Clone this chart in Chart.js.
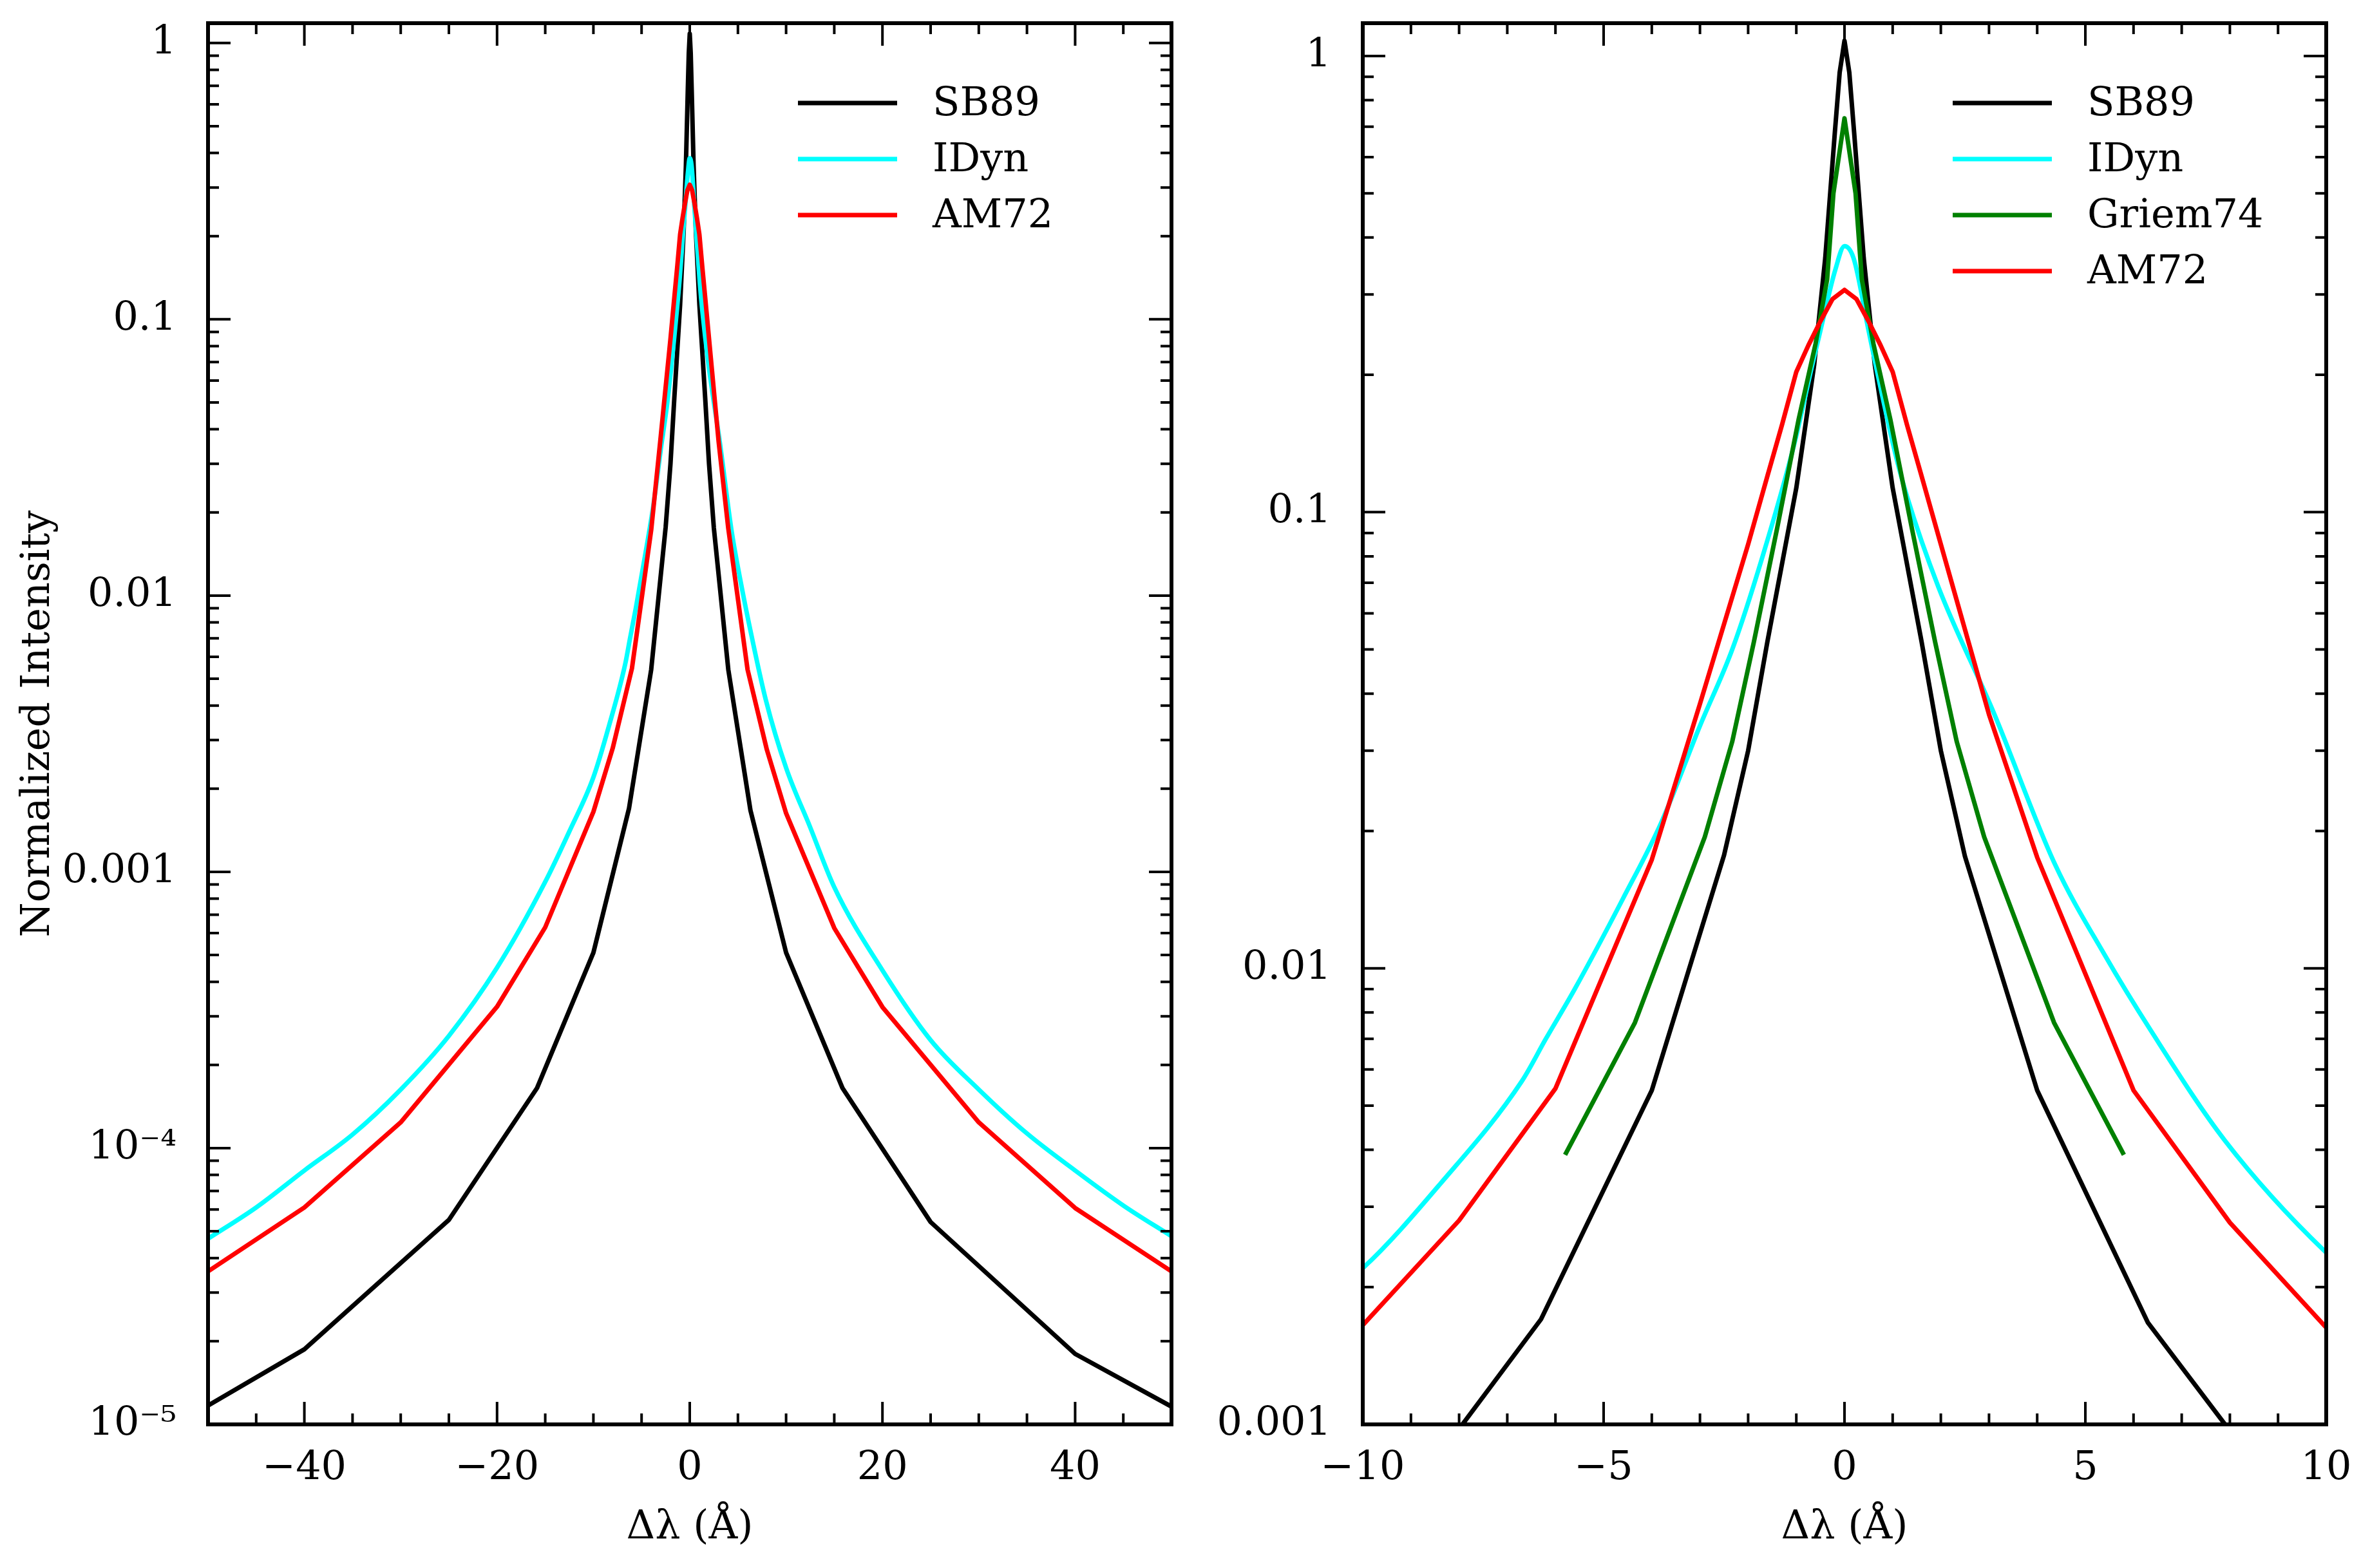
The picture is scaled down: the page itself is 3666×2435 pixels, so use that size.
<!DOCTYPE html>
<html>
<head>
<meta charset="utf-8">
<title>Line profiles</title>
<script src="https://cdn.jsdelivr.net/npm/chart.js@4.4.1/dist/chart.umd.min.js"></script>
<style>
  html, body { margin: 0; padding: 0; background: #fff; }
  body { width: 3666px; height: 2435px; position: relative; overflow: hidden; }
  canvas { position: absolute; top: 0; }
  #wide { left: 0; }
  #core { left: 1840px; }
</style>
</head>
<body>
<canvas id="wide" width="1900" height="2435"></canvas>
<canvas id="core" width="1826" height="2435"></canvas>
<script>
// profiles: delta lambda (A) vs normalized intensity
const sb89X = [-50, -40, -25, -15.85, -10, -6.3, -4, -2.5, -2, -1.6, -1, -0.63, -0.4, -0.2, -0.1, 0,
  0.1, 0.2, 0.4, 0.63, 1, 1.6, 2, 2.5, 4, 6.3, 10, 15.85, 25, 40, 50];
const sb89Y = [1.17e-5, 1.87e-5, 5.5e-5, 1.65e-4, 5.1e-4, 1.7e-3, 5.4e-3, 0.0177, 0.030, 0.052, 0.113, 0.21, 0.36, 0.68, 0.92, 1.08,
  0.92, 0.68, 0.36, 0.21, 0.113, 0.052, 0.030, 0.0176, 5.4e-3, 1.67e-3, 5.1e-4, 1.65e-4, 5.4e-5, 1.8e-5, 1.16e-5];

const idynX = [-50, -45, -40, -35, -30, -25, -20, -15, -12.5, -10, -8.4, -6.7, -6.2, -5.6, -4.6, -3.8, -3, -2.33, -1.7, -1.05,
  -0.67, -0.5, -0.19, 0, 0.19, 0.5, 0.67, 1.05, 1.3, 1.95, 3.1, 4.37, 5.4, 6.36, 7.89, 10, 12.5, 15, 20, 25, 30, 35, 40, 45, 50];
const idynY = [4.7e-5, 6.1e-5, 8.3e-5, 1.12e-4, 1.63e-4, 2.55e-4, 4.5e-4, 9.2e-4, 1.4e-3, 2.2e-3, 3.36e-3, 5.65e-3, 7.0e-3, 9.0e-3, 0.0142, 0.0209, 0.034, 0.050, 0.080, 0.14,
  0.21, 0.25, 0.34, 0.383, 0.36, 0.25, 0.205, 0.135, 0.108, 0.0685, 0.0363, 0.0169, 0.0107, 7.3e-3, 4.2e-3, 2.38e-3, 1.45e-3, 8.8e-4, 4.4e-4, 2.46e-4, 1.63e-4, 1.13e-4, 8.3e-5, 6.2e-5, 4.8e-5];

const griemX = [-5.8, -4.35, -2.9, -2.33, -1.88, -1.4, -0.95, -0.6, -0.36, -0.23, 0,
  0.23, 0.36, 0.6, 0.95, 1.4, 1.88, 2.33, 2.9, 4.35, 5.8];
const griemY = [3.9e-3, 7.6e-3, 0.0194, 0.0314, 0.052, 0.092, 0.16, 0.234, 0.324, 0.50, 0.73,
  0.50, 0.324, 0.234, 0.16, 0.092, 0.052, 0.0314, 0.0194, 7.6e-3, 3.9e-3];

const am72X = [-50, -40, -30, -20, -15, -10, -8, -6, -4, -3, -2, -1.6, -1.3, -1, -0.75, -0.5, -0.25, 0,
  0.25, 0.5, 0.75, 1, 1.3, 1.6, 2, 3, 4, 6, 8, 10, 15, 20, 30, 40, 50];
const am72Y = [3.58e-5, 6.1e-5, 1.24e-4, 3.25e-4, 6.3e-4, 1.65e-3, 2.8e-3, 5.45e-3, 0.0173, 0.038, 0.085, 0.12, 0.155, 0.203, 0.232, 0.262, 0.293, 0.307,
  0.293, 0.262, 0.232, 0.203, 0.155, 0.12, 0.085, 0.036, 0.0175, 5.4e-3, 2.77e-3, 1.63e-3, 6.26e-4, 3.24e-4, 1.24e-4, 6.07e-5, 3.58e-5];

const wideXTicks = [-40, -20, 0, 20, 40];
const wideXLabels = ['\u221240', '\u221220', '0', '20', '40'];
const coreXTicks = [-10, -5, 0, 5, 10];
const coreXLabels = ['\u221210', '\u22125', '0', '5', '10'];
const wideYTicks = [1e-5, 1e-4, 1e-3, 1e-2, 0.1, 1];
const wideYLabels = ['10\u207B\u2075', '10\u207B\u2074', '0.001', '0.01', '0.1', '1'];
const coreYTicks = [1e-3, 1e-2, 0.1, 1];
const coreYLabels = ['0.001', '0.01', '0.1', '1'];

const FONT = "'DejaVu Serif', 'Liberation Serif', serif";
const SIZE = 62;
const LW = 7;
Chart.defaults.font.family = FONT;
Chart.defaults.font.size = SIZE;
Chart.defaults.color = '#000';

function pts(xs, ys) {
  return xs.map((x, i) => ({ x: x, y: ys[i] }));
}

function line(label, xs, ys, color, order, smooth) {
  return {
    label: label, data: pts(xs, ys), order: order,
    borderColor: color, backgroundColor: color, borderWidth: LW,
    pointRadius: 0, fill: false, borderJoinStyle: 'round',
    tension: smooth ? 0.4 : 0,
    cubicInterpolationMode: smooth ? 'monotone' : 'default'
  };
}

// inward major/minor ticks on all four sides plus the frame
const frameTicks = {
  id: 'frameTicks',
  afterDatasetsDraw(chart, args, opts) {
    const { ctx, chartArea: a } = chart;
    const x = chart.scales.x, y = chart.scales.y;
    ctx.save();
    ctx.strokeStyle = '#000';
    ctx.lineWidth = 4;
    ctx.beginPath();
    const n = Math.round((x.max - x.min) / opts.xMinor);
    for (let i = 0; i <= n; i++) {
      const v = x.min + i * opts.xMinor;
      const major = Math.abs(v / opts.xMajor - Math.round(v / opts.xMajor)) < 1e-6;
      const len = major ? 35 : 17;
      const px = x.getPixelForValue(v);
      ctx.moveTo(px, a.bottom); ctx.lineTo(px, a.bottom - len);
      ctx.moveTo(px, a.top); ctx.lineTo(px, a.top + len);
    }
    const e0 = Math.floor(Math.log10(y.min)), e1 = Math.ceil(Math.log10(y.max));
    for (let e = e0; e <= e1; e++) {
      for (let m = 1; m <= 9; m++) {
        const v = m * Math.pow(10, e);
        if (v < y.min * 0.999 || v > y.max * 1.001) continue;
        const len = m === 1 ? 35 : 17;
        const py = y.getPixelForValue(v);
        ctx.moveTo(a.left, py); ctx.lineTo(a.left + len, py);
        ctx.moveTo(a.right, py); ctx.lineTo(a.right - len, py);
      }
    }
    ctx.stroke();
    ctx.lineWidth = 6;
    ctx.strokeRect(a.left, a.top, a.right - a.left, a.bottom - a.top);
    ctx.restore();
  }
};

// legend drawn inside the plot: short line sample + label
const lineKey = {
  id: 'lineKey',
  afterDraw(chart, args, opts) {
    const { ctx, chartArea: a } = chart;
    ctx.save();
    ctx.font = SIZE + 'px ' + FONT;
    ctx.textBaseline = 'middle';
    ctx.textAlign = 'left';
    chart.data.datasets.forEach((ds, i) => {
      const yy = a.top + opts.top + i * opts.step;
      ctx.strokeStyle = ds.borderColor;
      ctx.lineWidth = LW;
      ctx.beginPath();
      ctx.moveTo(a.left + opts.left, yy);
      ctx.lineTo(a.left + opts.left + opts.length, yy);
      ctx.stroke();
      ctx.fillStyle = '#000';
      ctx.fillText(ds.label, a.left + opts.textLeft, yy + 3);
    });
    ctx.restore();
  }
};

function makeChart(id, datasets, o) {
  return new Chart(document.getElementById(id), {
    type: 'line',
    data: { datasets: datasets },
    options: {
      responsive: false,
      animation: false,
      devicePixelRatio: 1,
      layout: { padding: { top: 36, right: o.padRight, bottom: 0, left: 0 } },
      plugins: {
        legend: { display: false },
        tooltip: { enabled: false },
        frameTicks: { xMinor: o.xMinor, xMajor: o.xMajor },
        lineKey: { left: 916, length: 154, textLeft: 1125, top: 124, step: 87 }
      },
      scales: {
        x: {
          type: 'linear', min: o.xMin, max: o.xMax,
          grid: { display: false }, border: { display: false },
          afterBuildTicks: s => { s.ticks = o.xTicks.map(v => ({ value: v })); },
          afterFit: s => { s.height = 223; s.paddingLeft = 0; s.paddingRight = 0; },
          ticks: { autoSkip: false, maxRotation: 0, padding: 24, callback: (v, i) => o.xLabels[i] },
          title: { display: true, text: '\u0394\u03BB (\u00C5)', padding: { top: 0, bottom: 25 } }
        },
        y: {
          type: 'logarithmic', min: o.yMin, max: 1.18,
          grid: { display: false }, border: { display: false },
          afterBuildTicks: s => { s.ticks = o.yTicks.map(v => ({ value: v })); },
          afterFit: s => { s.width = o.yWidth; s.paddingTop = 0; s.paddingBottom = 0; },
          ticks: { autoSkip: false, padding: 41, callback: (v, i) => o.yLabels[i] },
          title: { display: o.yTitle, text: 'Normalized Intensity', padding: { top: 23, bottom: 0 } }
        }
      }
    },
    plugins: [frameTicks, lineKey]
  });
}

makeChart('wide', [
  line('SB89', sb89X, sb89Y, '#000000', 3, false),
  line('IDyn', idynX, idynY, '#00ffff', 2, true),
  line('AM72', am72X, am72Y, '#ff0000', 0, false)
], {
  padRight: 81, yWidth: 323, yTitle: true,
  xMin: -50, xMax: 50, xMinor: 5, xMajor: 20, xTicks: wideXTicks, xLabels: wideXLabels,
  yMin: 1e-5, yTicks: wideYTicks, yLabels: wideYLabels
});

makeChart('core', [
  line('SB89', sb89X, sb89Y, '#000000', 3, false),
  line('IDyn', idynX, idynY, '#00ffff', 2, true),
  line('Griem74', griemX, griemY, '#008000', 1, false),
  line('AM72', am72X, am72Y, '#ff0000', 0, false)
], {
  padRight: 54, yWidth: 276, yTitle: false,
  xMin: -10, xMax: 10, xMinor: 1, xMajor: 5, xTicks: coreXTicks, xLabels: coreXLabels,
  yMin: 1e-3, yTicks: coreYTicks, yLabels: coreYLabels
});
</script>
</body>
</html>
